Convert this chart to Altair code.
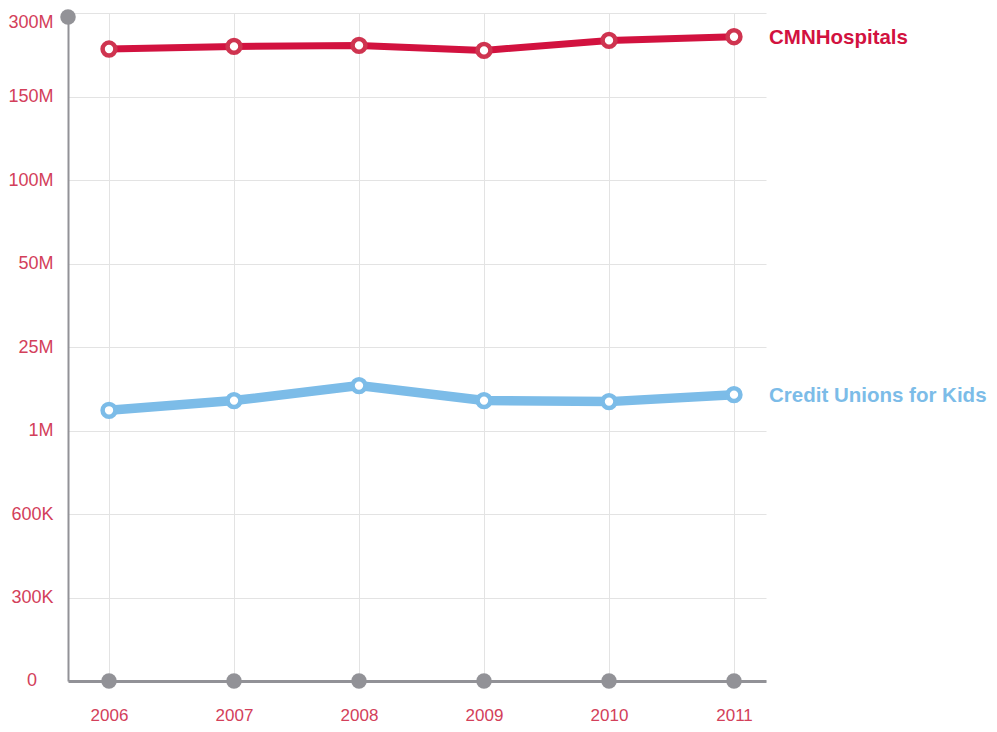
import altair as alt
import pandas as pd

years = [2006, 2007, 2008, 2009, 2010, 2011]
cmn_values = [235.3e6, 240.0e6, 241.8e6, 232.8e6, 250.8e6, 257.4e6]
cuk_values = [6.8e6, 9.6e6, 13.9e6, 9.6e6, 9.3e6, 11.3e6]
series_names = ["CMNHospitals", "Credit Unions for Kids"]
series_colors = ["#d2123f", "#7cbce8"]
point_colors = ["#cf3450", "#7cbce8"]
line_widths = [7, 9.5]

y_ticks = [0, 300000, 600000, 1000000, 25000000, 50000000, 100000000, 150000000, 300000000]
y_labels = ["0", "300K", "600K", "1M", "25M", "50M", "100M", "150M", "300M"]

W, H = 698, 668
x_domain = [2005.672, 2011.256]
y_range = [H - k * H / (len(y_ticks) - 1) for k in range(len(y_ticks))]

rows = []
for name, vals in zip(series_names, [cmn_values, cuk_values]):
    for yr, v in zip(years, vals):
        rows.append({"year": yr, "value": v, "series": name})
df = pd.DataFrame(rows)
last = df[df["year"] == years[-1]]
base_df = pd.DataFrame({"year": years, "value": [0] * len(years)})
top_df = pd.DataFrame({"year": [x_domain[0]], "value": [y_ticks[-1]]})
zero_df = pd.DataFrame({"year": [x_domain[0]], "value": [y_ticks[0]], "label": [y_labels[0]]})

# the "0" label is drawn as its own text mark (centred, like the reference)
label_expr = " : ".join(
    f"datum.value == {v} ? '{l}'" for v, l in zip(y_ticks[1:], y_labels[1:])
) + " : ''"

xscale = alt.Scale(domain=x_domain, nice=False, zero=False)
yscale = alt.Scale(domain=y_ticks, range=y_range, nice=False, zero=False)
color_scale = alt.Scale(domain=series_names, range=series_colors)
pcolor_scale = alt.Scale(domain=series_names, range=point_colors)

FONT = "Liberation Sans"
LABEL_COLOR = "#d3405a"
GRAY = "#929297"
GRID = "#e3e3e3"

x_enc = alt.X("year:Q", scale=xscale, axis=alt.Axis(
    values=years, format="d", title=None, tickSize=0, labelPadding=26,
    labelFontSize=17, labelColor=LABEL_COLOR, labelFont=FONT,
    domainColor=GRAY, domainWidth=3, grid=True, gridColor=GRID, gridWidth=1,
    labelFlush=False))
y_enc = alt.Y("value:Q", scale=yscale, axis=alt.Axis(
    values=y_ticks, labelExpr=label_expr, title=None, tickSize=0, labelPadding=15,
    labelAlign="right", labelFontSize=18,
    labelColor=LABEL_COLOR, labelFont=FONT, domainColor=GRAY, domainWidth=2,
    grid=True, gridColor=GRID, gridWidth=1, labelFlush=True))

lines = alt.Chart(df).mark_line().encode(
    x=x_enc, y=y_enc,
    color=alt.Color("series:N", scale=color_scale, legend=None),
    strokeWidth=alt.StrokeWidth("series:N", scale=alt.Scale(domain=series_names, range=line_widths), legend=None),
)
points = alt.Chart(df).mark_point(filled=False, fill="white", fillOpacity=1, size=165, strokeWidth=4.5, opacity=1).encode(
    x="year:Q", y="value:Q",
    stroke=alt.Stroke("series:N", scale=pcolor_scale, legend=None),
)
labels = alt.Chart(last).mark_text(align="left", baseline="middle", dx=35, dy=1, fontSize=20.5, fontWeight="bold", font=FONT).encode(
    x="year:Q", y="value:Q", text="series:N",
    color=alt.Color("series:N", scale=color_scale, legend=None),
)
zero_label = alt.Chart(zero_df).mark_text(align="center", baseline="middle", dx=-36, fontSize=18, font=FONT, color=LABEL_COLOR).encode(
    x="year:Q", y="value:Q", text="label:N")
base_dots = alt.Chart(base_df).mark_circle(size=240, color=GRAY, opacity=1).encode(x="year:Q", y="value:Q")
top_dot = alt.Chart(top_df).mark_circle(size=240, color=GRAY, opacity=1, yOffset=4).encode(x="year:Q", y="value:Q")

chart = alt.layer(lines, points, labels, zero_label, base_dots, top_dot).properties(
    width=W, height=H,
    background="white",
    autosize=alt.AutoSizeParams(type="none"),
    padding={"left": 60, "top": 5, "right": 223, "bottom": 43},
).configure_view(stroke=None)

chart.save("out.html", embed_options={"renderer": "svg", "actions": False})
